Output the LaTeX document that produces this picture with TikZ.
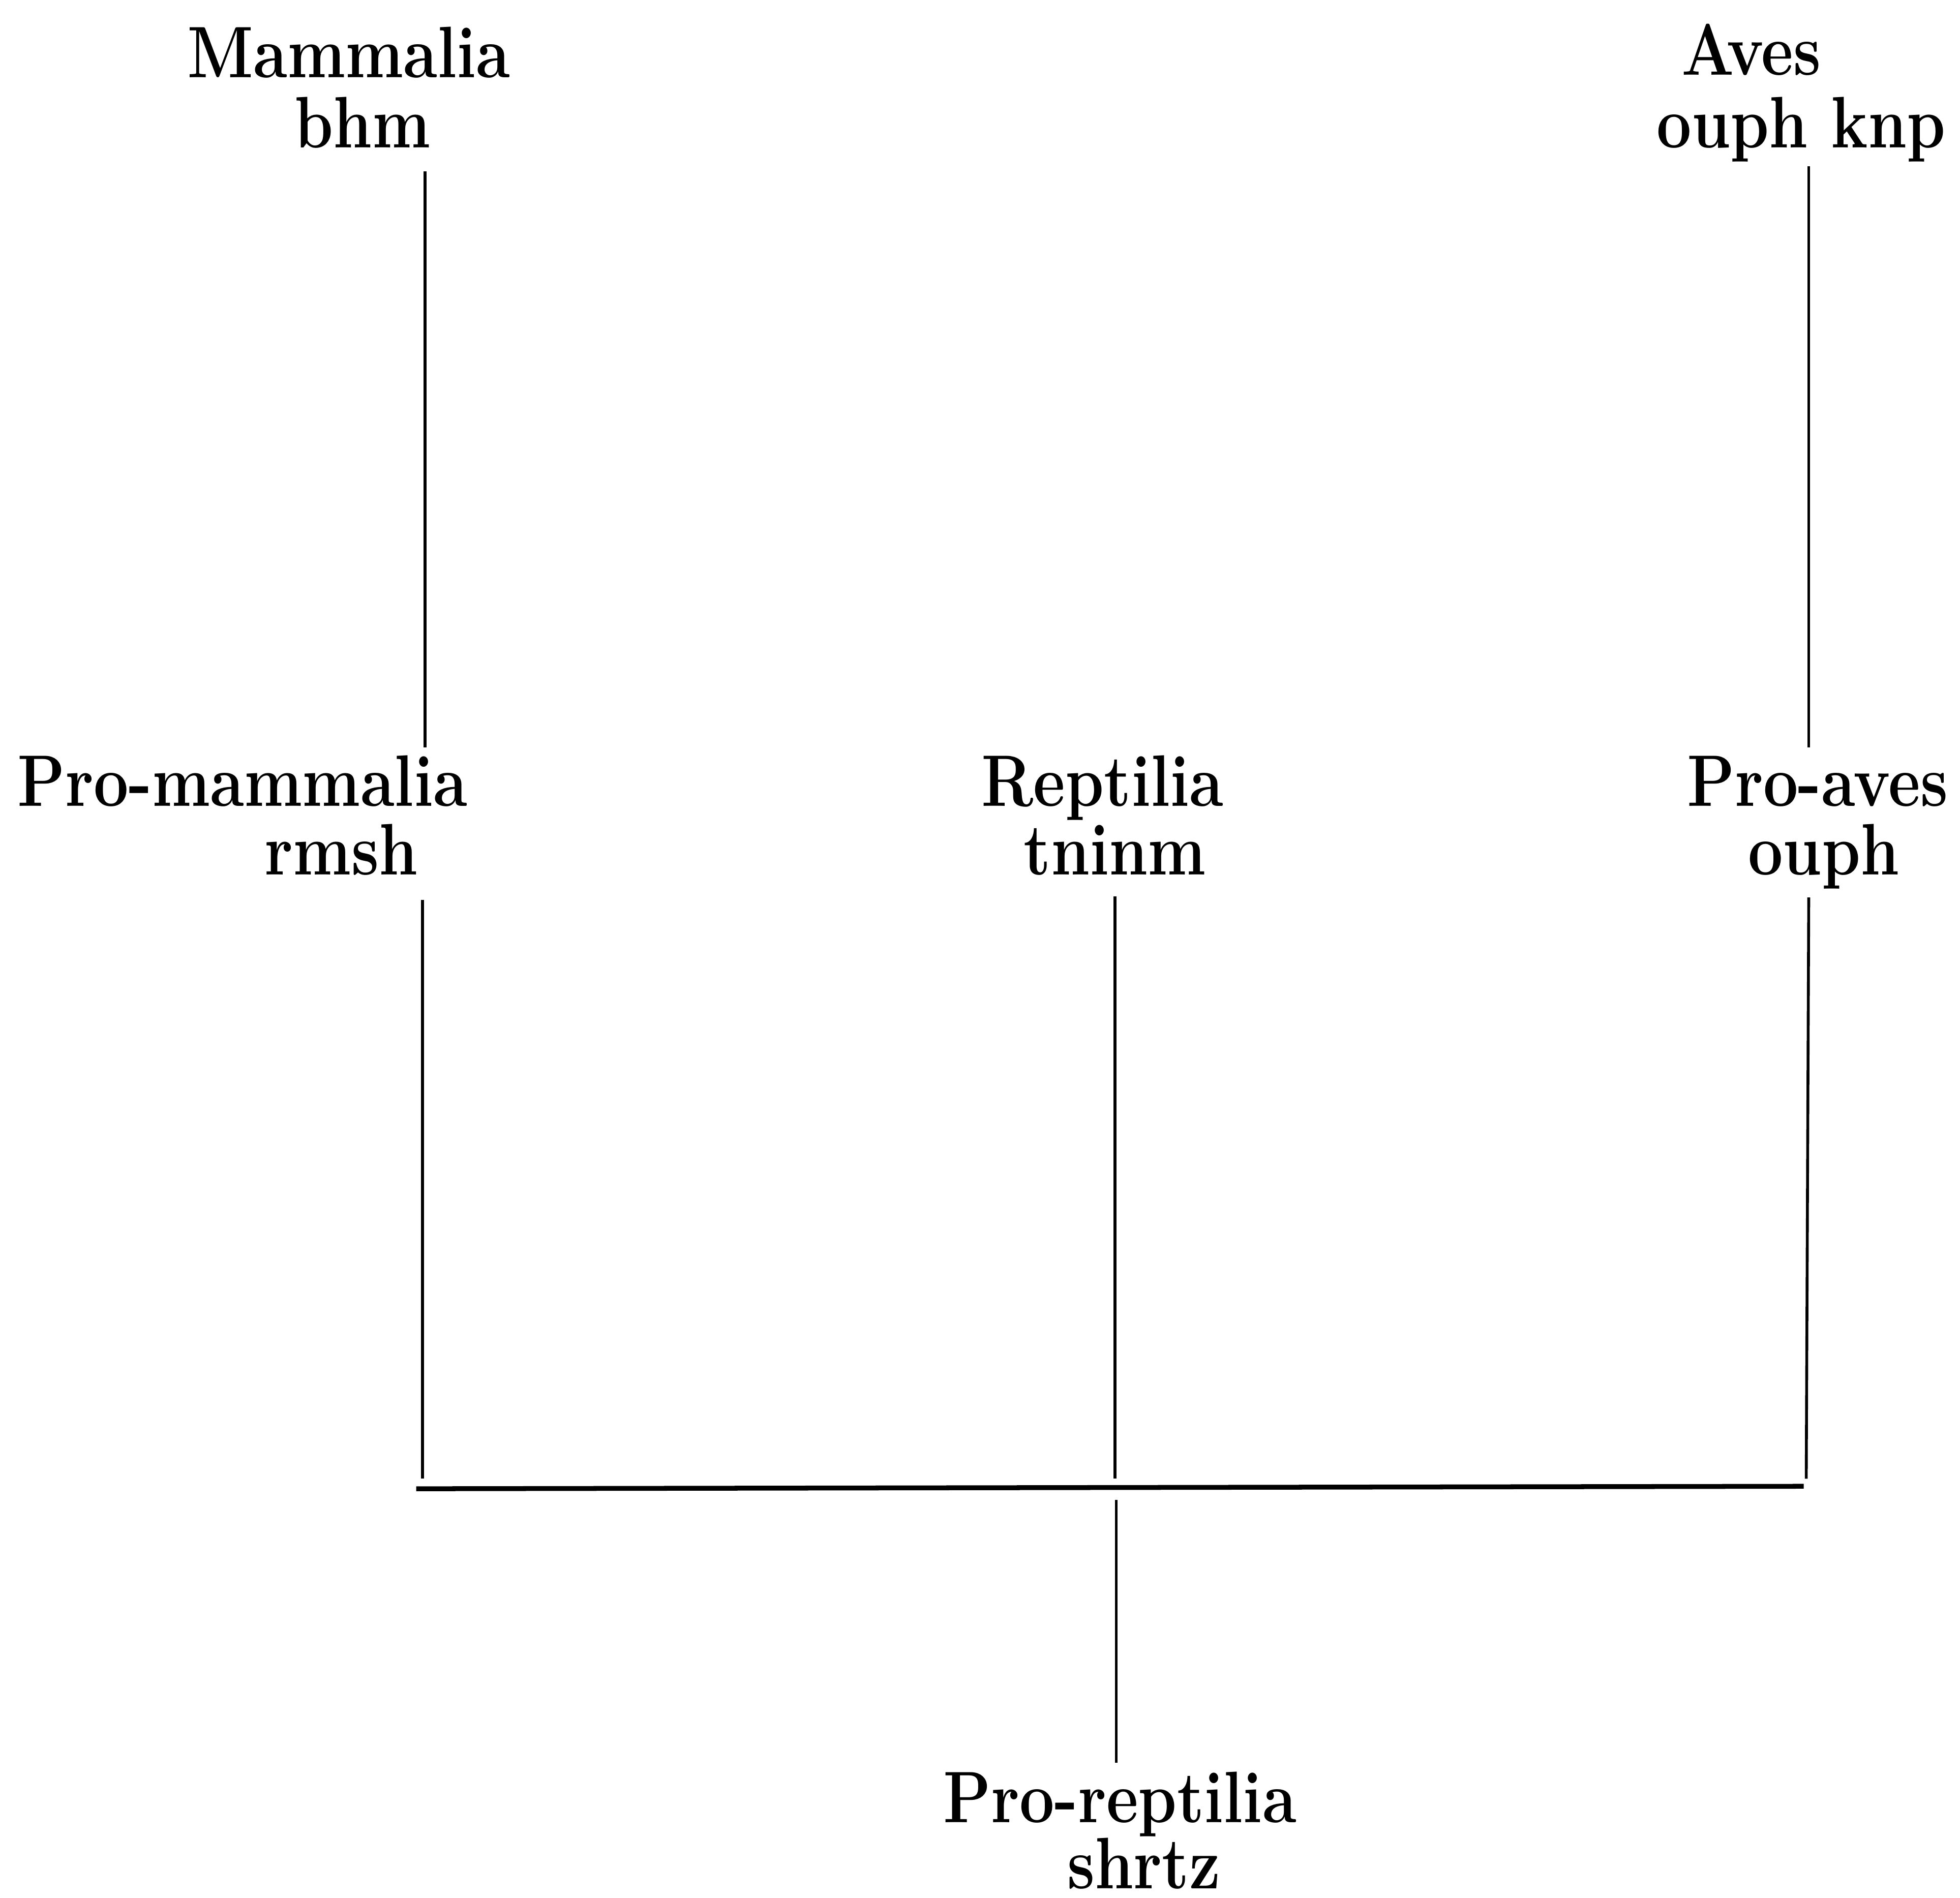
\documentclass[tikz,border=0pt]{standalone}
\usepackage{graphicx}
\newcommand{\lbl}[1]{\scalebox{0.85}[1]{\fontsize{16.6pt}{17pt}\selectfont\bfseries #1}}
\begin{document}
\begin{tikzpicture}[x=0.01cm,y=-0.01cm,
  lab/.style={anchor=base,inner sep=0pt,outer sep=0pt},
  vline/.style={line width=0.65pt},
  hline/.style={line width=1.1pt}]
\useasboundingbox (0,0) rectangle (1568,1518);
% labels
\node[lab] (mam1) at (279,62) {\lbl{Mammalia}};
\node[lab] (mam2) at (290,118) {\lbl{bhm}};
\node[lab] (pm1) at (194,645) {\lbl{Pro-mammalia}};
\node[lab] (pm2) at (273,700) {\lbl{rmsh}};
\node[lab] (rep1) at (882,645) {\lbl{Reptilia}};
\node[lab] (rep2) at (892,700) {\lbl{tninm}};
\node[lab] (pr1) at (896,1458) {\lbl{Pro-reptilia}};
\node[lab] (pr2) at (915,1511) {\lbl{shrtz}};
\node[lab] (av1) at (1401,60) {\lbl{Aves}};
\node[lab] (av2) at (1441,118) {\lbl{ouph knp}};
\node[lab] (pa1) at (1454,645) {\lbl{Pro-aves}};
\node[lab] (pa2) at (1459,700) {\lbl{ouph}};
% connector ends
\coordinate (mA) at (340,137);
\coordinate (mB) at (340,598);
\coordinate (pmA) at (338,720);
\coordinate (pmB) at (338,1183);
\coordinate (rA) at (892,717);
\coordinate (rB) at (892,1183);
\coordinate (aA) at (1447,133);
\coordinate (aB) at (1447,598);
\coordinate (paA) at (1447,718);
\coordinate (paB) at (1445,1183);
\coordinate (hL) at (333,1191);
\coordinate (hR) at (1443,1189);
\coordinate (prA) at (893,1200);
\coordinate (prB) at (893,1410);
% connectors
\draw[vline] (mA) -- (mB);
\draw[vline] (pmA) -- (pmB);
\draw[vline] (rA) -- (rB);
\draw[vline] (aA) -- (aB);
\draw[vline] (paA) -- (paB);
\draw[hline] (hL) -- (hR);
\draw[vline] (prA) -- (prB);
\end{tikzpicture}
\end{document}
